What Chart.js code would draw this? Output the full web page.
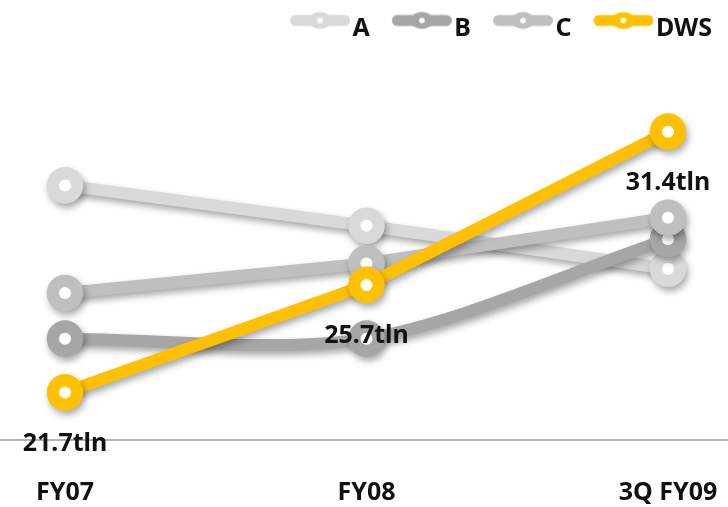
<!DOCTYPE html>
<html>
<head>
<meta charset="utf-8">
<script src="https://cdn.jsdelivr.net/npm/chart.js@4"></script>
<style>
  html, body { margin: 0; padding: 0; background: #ffffff; }
  #wrap { width: 728px; height: 507px; }
</style>
</head>
<body>
<div id="wrap"><canvas id="chart" width="728" height="507"></canvas></div>
<script>
// Categories and series values (trillions)
const categories = ['FY07', 'FY08', '3Q FY09'];
const seriesA = [29.4, 27.9, 26.3];
const seriesB = [23.7, 23.7, 27.4];
const seriesC = [25.4, 26.5, 28.2];
const seriesDWS = [21.7, 25.7, 31.4];
const labelSuffix = 'tln';

const FONT = '"Noto Sans", "DejaVu Sans", sans-serif';
const COLORS = { A: '#d9d9d9', B: '#a6a6a6', C: '#bfbfbf', DWS: '#ffc000' };

// Legend marker: thick rounded bar with an oval knob and a white centre dot
function legendMarker(color) {
  const c = document.createElement('canvas');
  c.width = 76; c.height = 40;
  const g = c.getContext('2d');
  const cy = 12, x0 = 16, x1 = 76, cx = (x0 + x1) / 2;
  g.strokeStyle = color;
  g.lineWidth = 11;
  g.lineCap = 'round';
  g.beginPath(); g.moveTo(x0 + 5.5, cy); g.lineTo(x1 - 5.5, cy); g.stroke();
  g.fillStyle = color;
  g.beginPath(); g.ellipse(cx, cy, 11.5, 8.5, 0, 0, Math.PI * 2); g.fill();
  g.fillStyle = '#ffffff';
  g.beginPath(); g.arc(cx, cy, 2.8, 0, Math.PI * 2); g.fill();
  return c;
}

function series(label, data, color, order, tension) {
  return {
    label, data, order,
    borderColor: color,
    backgroundColor: color,
    borderWidth: 12,
    borderJoinStyle: 'round',
    tension: tension,
    pointRadius: 18.3,
    pointHoverRadius: 18.3,
    pointBorderWidth: 0,
    pointHoverBorderWidth: 0,
    pointBackgroundColor: color,
    clip: false
  };
}

// Soft drop shadow under each line and its markers
const dropShadow = {
  id: 'dropShadow',
  beforeDatasetDraw(chart) {
    const ctx = chart.ctx;
    ctx.save();
    ctx.shadowColor = 'rgba(0,0,0,0.35)';
    ctx.shadowBlur = 7;
    ctx.shadowOffsetX = 2;
    ctx.shadowOffsetY = 4;
  },
  afterDatasetDraw(chart) {
    chart.ctx.restore();
  }
};

// White centre dot punched into every marker (drawn without shadow)
const markerHoles = {
  id: 'markerHoles',
  afterDatasetDraw(chart, args) {
    const ctx = chart.ctx;
    ctx.save();
    ctx.fillStyle = '#ffffff';
    args.meta.data.forEach(pt => {
      ctx.beginPath();
      ctx.arc(pt.x, pt.y, 6, 0, Math.PI * 2);
      ctx.fill();
    });
    ctx.restore();
  }
};

// Full-width baseline under the plot
const baseline = {
  id: 'baseline',
  beforeDatasetsDraw(chart) {
    const ctx = chart.ctx;
    const y = chart.chartArea.bottom;
    ctx.save();
    ctx.strokeStyle = '#9a9a9a';
    ctx.lineWidth = 1.6;
    ctx.beginPath();
    ctx.moveTo(0, y);
    ctx.lineTo(chart.width, y);
    ctx.stroke();
    ctx.restore();
  }
};

// Value labels under the DWS markers
const valueLabels = {
  id: 'valueLabels',
  afterDatasetsDraw(chart) {
    const ctx = chart.ctx;
    const idx = chart.data.datasets.findIndex(d => d.label === 'DWS');
    const meta = chart.getDatasetMeta(idx);
    const values = chart.data.datasets[idx].data;
    ctx.save();
    ctx.font = 'bold 25px ' + FONT;
    ctx.fillStyle = '#111111';
    ctx.textAlign = 'center';
    ctx.textBaseline = 'middle';
    meta.data.forEach((pt, i) => {
      ctx.fillText(values[i].toFixed(1) + labelSuffix, pt.x, pt.y + 51);
    });
    ctx.restore();
  }
};

const hiddenSide = (w, pos) => ({
  position: pos,
  display: true,
  min: 19.93,
  max: 34.4,
  ticks: { display: false },
  grid: { display: false, drawOnChartArea: false, drawTicks: false },
  border: { display: false },
  afterFit(s) { s.width = w; }
});

new Chart(document.getElementById('chart'), {
  type: 'line',
  data: {
    labels: categories,
    datasets: [
      series('A', seriesA, COLORS.A, 4, 0),
      series('B', seriesB, COLORS.B, 3, 0.3),
      series('C', seriesC, COLORS.C, 2, 0),
      series('DWS', seriesDWS, COLORS.DWS, 1, 0)
    ]
  },
  options: {
    responsive: false,
    animation: false,
    devicePixelRatio: 1,
    layout: { padding: 0 },
    scales: {
      x: {
        offset: false,
        grid: { display: false, drawTicks: false },
        border: { display: false },
        ticks: {
          color: '#111111',
          padding: 38,
          maxRotation: 0,
          autoSkip: false,
          font: { family: FONT, size: 25, weight: 'bold' }
        },
        afterFit(s) {
          s.height = 67;
          s.paddingLeft = 0;
          s.paddingRight = 0;
        }
      },
      y: hiddenSide(65, 'left'),
      y2: hiddenSide(60, 'right')
    },
    plugins: {
      tooltip: { enabled: false },
      legend: {
        position: 'top',
        align: 'end',
        labels: {
          usePointStyle: true,
          pointStyleWidth: 56,
          padding: 16,
          color: '#111111',
          font: { family: FONT, size: 25, weight: 'bold' },
          sort: (a, b) => a.datasetIndex - b.datasetIndex,
          generateLabels(chart) {
            const items = Chart.defaults.plugins.legend.labels.generateLabels(chart);
            return items.map(it => {
              const ds = chart.data.datasets[it.datasetIndex];
              it.pointStyle = legendMarker(ds.borderColor);
              it.fontColor = '#111111';
              return it;
            });
          }
        }
      }
    }
  },
  plugins: [dropShadow, markerHoles, baseline, valueLabels]
});
</script>
</body>
</html>
